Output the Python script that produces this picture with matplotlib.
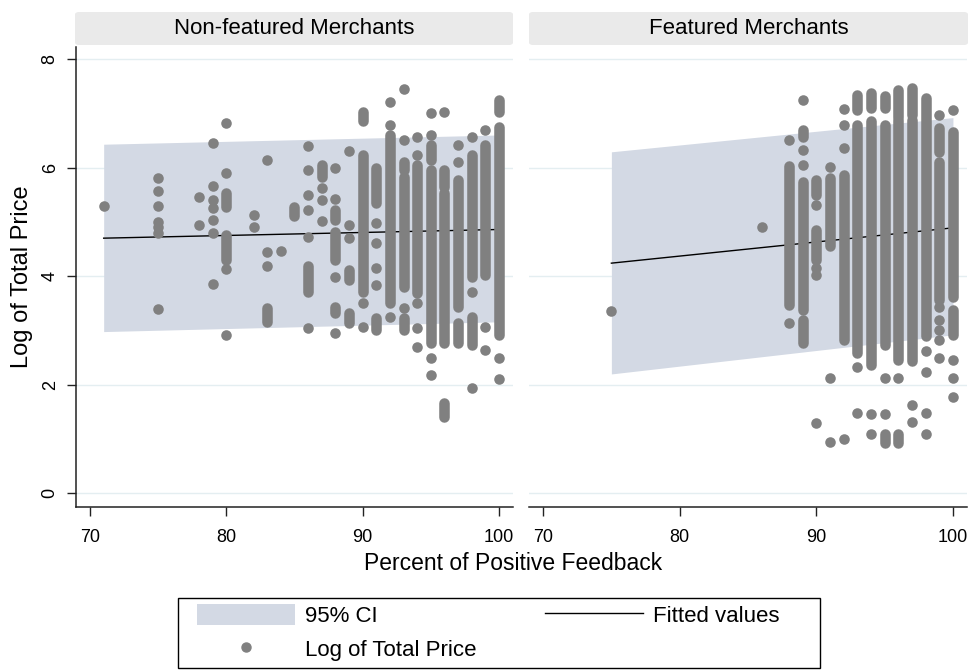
import matplotlib
matplotlib.use('Agg')
import matplotlib.pyplot as plt
from matplotlib.patches import FancyBboxPatch, Patch, Rectangle
from matplotlib.lines import Line2D

plt.rcParams['font.family'] = ['Liberation Sans', 'DejaVu Sans']

# ---------------- data ----------------
panel_titles = ["Non-featured Merchants", "Featured Merchants"]
x_ticks = [70, 80, 90, 100]
y_ticks = [0, 2, 4, 6, 8]

# Non-featured merchants: fitted line and 95% CI (endpoints)
nf_fit_x = [71, 100]
nf_fit = [4.70, 4.86]
nf_ci_lo = [2.98, 3.16]
nf_ci_hi = [6.43, 6.60]

# Featured merchants: fitted line and 95% CI (endpoints)
f_fit_x = [75, 100]
f_fit = [4.24, 4.89]
f_ci_lo = [2.20, 2.92]
f_ci_hi = [6.29, 6.92]

# Non-featured: isolated observations
nf_pt_x = [71,
           75, 75, 75, 75, 75, 75, 75,
           78, 78,
           79, 79, 79, 79, 79, 79, 79,
           80, 80, 80, 80,
           82, 82,
           83, 83, 83,
           84,
           86, 86, 86, 86, 86, 86,
           87, 87, 87,
           88, 88, 88, 88,
           89, 89, 89,
           90, 90,
           91, 91, 91, 91,
           92, 92, 92,
           93, 93, 93,
           94, 94, 94, 94, 94,
           95, 95, 95, 95,
           96,
           97, 97,
           98, 98, 98,
           99, 99, 99,
           100, 100]
nf_pt_y = [5.30,
           5.81, 5.56, 5.29, 5.00, 4.90, 4.80, 3.39,
           5.45, 4.94,
           6.46, 5.66, 5.40, 5.25, 5.04, 4.80, 3.85,
           6.82, 5.90, 4.13, 2.92,
           5.13, 4.91,
           6.14, 4.45, 4.19,
           4.46,
           6.40, 5.96, 5.50, 5.22, 4.73, 3.05,
           5.62, 5.40, 5.02,
           5.99, 5.43, 3.99, 2.96,
           6.31, 4.94, 4.70,
           3.50, 3.07,
           4.98, 4.61, 4.15, 3.84,
           7.21, 6.78, 3.25,
           7.44, 6.51, 3.41,
           6.56, 6.23, 3.51, 3.05, 2.70,
           7.00, 6.60, 2.49, 2.18,
           7.03,
           6.42, 6.11,
           6.56, 3.71, 1.95,
           6.69, 3.07, 2.64,
           2.49, 2.11]

# Non-featured: stacks of overlapping observations (x, lowest, highest)
nf_run_x = [80, 80, 83, 85, 86, 87, 88, 88, 88, 89, 89, 90, 90, 91, 91,
            92, 93, 93, 93, 94, 95, 95, 96, 96, 96, 97, 97, 98, 98, 99, 100, 100]
nf_run_lo = [5.27, 4.30, 3.16, 5.10, 3.71, 5.83, 5.03, 4.30, 3.32, 3.93, 3.14, 6.85, 3.70, 5.35, 3.00,
             3.50, 5.96, 3.81, 3.00, 3.69, 6.14, 2.77, 5.65, 2.77, 1.41, 3.44, 2.77, 3.99, 2.73, 4.02, 7.03, 2.92]
nf_run_hi = [5.53, 4.75, 3.41, 5.28, 4.18, 6.05, 5.22, 4.82, 3.44, 4.11, 3.32, 7.03, 6.23, 5.99, 3.23,
             6.60, 6.11, 5.83, 3.23, 6.05, 6.42, 5.96, 5.96, 5.53, 1.66, 5.77, 3.14, 6.23, 3.25, 6.42, 7.24, 6.75]

# Featured: isolated observations
f_pt_x = [75, 86,
          88, 88,
          89, 89, 89,
          90, 90, 90, 90,
          91, 91, 91,
          92, 92, 92, 92,
          93, 93,
          94, 94,
          95, 95,
          96,
          97, 97,
          98, 98, 98, 98,
          99, 99, 99, 99, 99, 99,
          100, 100, 100, 100]
f_pt_y = [3.35, 4.91,
          6.50, 3.14,
          7.24, 6.32, 6.05,
          5.31, 4.15, 4.02, 1.29,
          6.01, 2.12, 0.95,
          7.07, 6.78, 6.36, 1.01,
          2.33, 1.49,
          1.47, 1.09,
          2.13, 1.47,
          2.13,
          1.63, 1.32,
          2.63, 2.23, 1.49, 1.09,
          6.97, 3.44, 3.19, 3.00, 2.83, 2.49,
          7.06, 2.46, 2.12, 1.78]

# Featured: stacks of overlapping observations (x, lowest, highest)
f_run_x = [88, 89, 89, 89, 90, 90, 91, 92, 93, 93, 94, 94, 95, 95, 95,
           96, 96, 96, 97, 97, 98, 99, 99, 100, 100]
f_run_lo = [3.47, 6.57, 3.38, 2.77, 5.50, 4.30, 4.55, 2.83, 7.06, 2.59, 7.09, 2.36, 7.09, 2.73, 0.93,
            6.94, 2.46, 0.93, 6.97, 2.43, 2.89, 6.29, 3.56, 3.62, 2.92]
f_run_hi = [6.02, 6.69, 5.74, 3.19, 5.77, 4.85, 5.80, 5.86, 7.34, 6.78, 7.37, 6.85, 7.31, 6.78, 1.09,
            7.43, 6.88, 1.09, 7.46, 6.88, 7.28, 6.72, 6.11, 6.66, 3.38]

legend_labels = ['95% CI', 'Log of Total Price', 'Fitted values']
x_title = 'Percent of Positive Feedback'
y_title = 'Log of Total Price'

# ---------------- style ----------------
CI_COLOR = '#d3d9e4'
PT_COLOR = '#808080'
GRID_COLOR = '#e4eef1'
STRIP_COLOR = '#eaeaea'
MARK_D = 7.6  # marker diameter in points

W, H = 970, 671
fig = plt.figure(figsize=(W / 100, H / 100), dpi=100)
fig.patch.set_facecolor('white')


def rect(l, t, r, b):
    return [l / W, 1 - b / H, (r - l) / W, (b - t) / H]


ax1 = fig.add_axes(rect(76, 47, 513, 507))
ax2 = fig.add_axes(rect(529, 47, 967, 507))

panels = [
    (ax1, nf_fit_x, nf_fit, nf_ci_lo, nf_ci_hi, nf_pt_x, nf_pt_y, nf_run_x, nf_run_lo, nf_run_hi),
    (ax2, f_fit_x, f_fit, f_ci_lo, f_ci_hi, f_pt_x, f_pt_y, f_run_x, f_run_lo, f_run_hi),
]

for ax, fx, fy, clo, chi, px, py, rx, rlo, rhi in panels:
    ax.set_xlim(68.97, 101.03)
    ax.set_ylim(-0.25, 8.22)
    ax.fill_between(fx, clo, chi, color=CI_COLOR, lw=0, zorder=1)
    ax.plot(fx, fy, color='black', lw=1.0, zorder=2)
    ax.vlines(rx, rlo, rhi, colors=PT_COLOR, linewidth=MARK_D, capstyle='round', zorder=3)
    ax.scatter(px, py, s=MARK_D ** 2, color=PT_COLOR, lw=0, zorder=3)
    ax.set_yticks(y_ticks)
    ax.set_xticks(x_ticks)
    ax.grid(axis='y', color=GRID_COLOR, lw=1.0)
    ax.set_axisbelow(True)
    for s in ['top', 'right']:
        ax.spines[s].set_visible(False)
    ax.spines['bottom'].set_color('#222222')
    ax.spines['bottom'].set_linewidth(1.1)
    ax.tick_params(axis='x', direction='out', length=6.5, width=1.0, color='#222222',
                   labelsize=13, pad=9)

ax1.spines['left'].set_color('#222222')
ax1.spines['left'].set_linewidth(1.1)
ax1.tick_params(axis='y', direction='out', length=6.5, width=1.0, color='#222222',
                labelsize=13, pad=6)
ax1.set_yticklabels([str(t) for t in y_ticks], rotation=90, va='center')
ax2.spines['left'].set_visible(False)
ax2.tick_params(axis='y', left=False, labelleft=False)

# panel strips
for (l, r), title in zip([(75, 513), (529, 968)], panel_titles):
    box = FancyBboxPatch((l / W, 1 - 45 / H), (r - l) / W, 33 / H,
                         boxstyle='round,pad=0,rounding_size=0.004',
                         transform=fig.transFigure, facecolor=STRIP_COLOR,
                         edgecolor='none', zorder=0)
    fig.add_artist(box)
    fig.text((l + r) / 2 / W, 1 - 28.5 / H, title, ha='center', va='center', fontsize=16)

# axis titles
fig.text(513 / W, 1 - 563 / H, x_title, ha='center', va='center', fontsize=16.5)
fig.text(22 / W, 1 - 277 / H, y_title, ha='center', va='center', rotation=90, fontsize=17)

# legend frame
fig.add_artist(Rectangle((178 / W, 1 - 668 / H), (820 - 178) / W, (668 - 598) / H,
                         transform=fig.transFigure, facecolor='white',
                         edgecolor='black', lw=1.0, zorder=1))

handles = [Patch(facecolor=CI_COLOR, edgecolor='none'),
           Line2D([], [], marker='o', ls='none', color=PT_COLOR, markersize=6.5),
           Line2D([], [], color='black', lw=1.0)]
leg = fig.legend(handles, legend_labels, ncol=2, loc='upper left',
                 bbox_to_anchor=(197 / W, 1 - 604 / H), bbox_transform=fig.transFigure,
                 fontsize=16, frameon=False,
                 handlelength=4.4, handleheight=1.05, handletextpad=0.45,
                 labelspacing=0.5, columnspacing=3.1, borderpad=0, borderaxespad=0)
leg.set_zorder(2)

fig.savefig('out.png', dpi=100)
